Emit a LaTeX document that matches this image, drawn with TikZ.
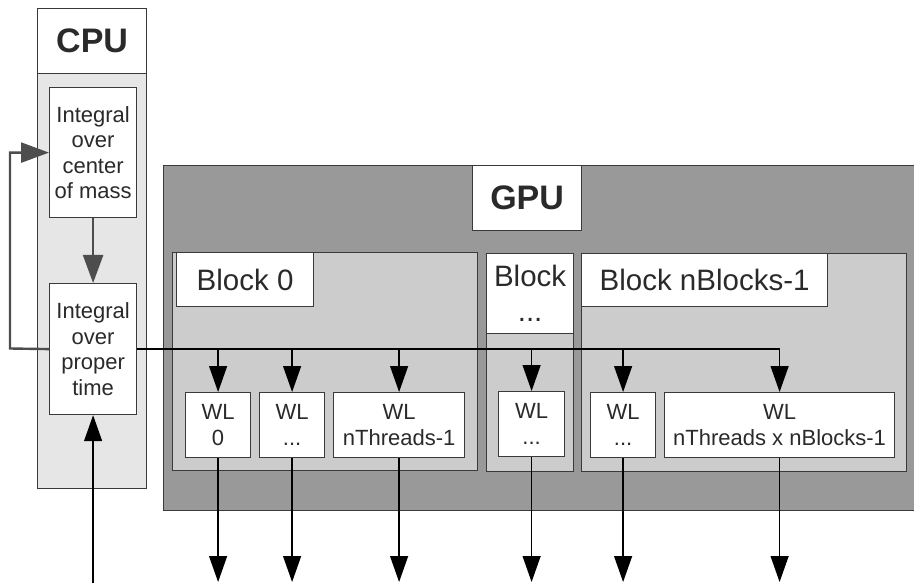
\documentclass[tikz,border=0pt]{standalone}
\usepackage{fontspec}
\setmainfont{Liberation Sans}
\usetikzlibrary{arrows.meta}
\definecolor{txt}{HTML}{2A2A2A}
\definecolor{edge}{HTML}{3A3A3A}
\definecolor{cpufill}{HTML}{E6E6E6}
\definecolor{gpufill}{HTML}{999999}
\definecolor{blkfill}{HTML}{CCCCCC}
\definecolor{garrow}{HTML}{4D4D4D}
\tikzset{
  box/.style={draw=edge, line width=1.2pt, fill=white, inner sep=0pt, anchor=north west, align=center, text=txt},
  big/.style={font=\fontsize{34}{38}\selectfont\bfseries},
  blk/.style={font=\fontsize{29.5}{35}\selectfont},
  wl/.style={font=\fontsize{22}{26}\selectfont},
  integ/.style={font=\fontsize{22}{25.5}\selectfont},
  flow/.style={draw=black, line width=1.3pt, -{Triangle[length=26pt,width=18pt]}},
  gflow/.style={draw=garrow, line width=2.4pt, -{Triangle[length=28pt,width=20pt]}},
}
\begin{document}
\begin{tikzpicture}[x=1pt,y=-1pt]
\useasboundingbox (0,0) rectangle (914,583);
\clip (0,0) rectangle (914,583);
% CPU column
\node[box, fill=cpufill, minimum width=109pt, minimum height=480pt] (cpucol) at (37,8) {};
\node[box, big, minimum width=109pt, minimum height=65pt] (cpu) at (37,8) {CPU};
\node[box, integ, minimum width=87pt, minimum height=130pt] (com) at (49,87) {Integral\\over\\center\\of mass};
\node[box, integ, minimum width=87pt, minimum height=131pt] (prop) at (49,283) {Integral\\over\\proper\\time};
% GPU
\node[box, fill=gpufill, minimum width=780pt, minimum height=345pt] (gpu) at (163,165) {};
\node[box, big, minimum width=109pt, minimum height=65pt] (gpulab) at (472,165) {GPU};
% Blocks
\node[box, fill=blkfill, minimum width=305pt, minimum height=218pt] (blk0) at (172,252) {};
\node[box, blk, minimum width=137pt, minimum height=54pt] (blk0lab) at (176,252) {Block 0};
\node[box, fill=blkfill, minimum width=87pt, minimum height=218pt] (blkm) at (486,253) {};
\node[box, blk, minimum width=87pt, minimum height=80pt] (blkmlab) at (486,253) {Block\\...};
\node[box, fill=blkfill, minimum width=325pt, minimum height=218pt] (blkn) at (581,253) {};
\node[box, blk, minimum width=246pt, minimum height=53pt] (blknlab) at (581,253) {Block nBlocks-1};
% WL boxes
\node[box, wl, minimum width=65pt, minimum height=65pt] (wl0) at (185,392) {WL\\0};
\node[box, wl, minimum width=65pt, minimum height=65pt] (wl1) at (259,392) {WL\\...};
\node[box, wl, minimum width=131pt, minimum height=65pt] (wl2) at (333,392) {WL\\nThreads-1};
\node[box, wl, minimum width=66pt, minimum height=65pt] (wl3) at (498,391) {WL\\...};
\node[box, wl, minimum width=65pt, minimum height=65pt] (wl4) at (590,392) {WL\\...};
\node[box, wl, minimum width=230pt, minimum height=65pt] (wl5) at (664,392) {WL\\nThreads x nBlocks-1};
% coordinates
\coordinate (loopc) at (10,348.5);
\coordinate (bot) at (0,582);
\coordinate (botin) at (0,584);
% CPU arrows
\draw[gflow] (com.south) -- (prop.north);
\draw[gflow] (prop.west) -- (loopc) |- (com.west);
% bus
\draw[black, line width=1.3pt] (prop.east) -- (wl5.north |- prop.east);
\foreach \w in {wl0,wl1,wl2,wl3,wl4,wl5} {
  \draw[flow] (\w.north |- prop.east) -- (\w.north);
  \draw[flow] (\w.south) -- (\w.south |- bot);
}
\draw[flow] (prop.south |- botin) -- (prop.south);
\end{tikzpicture}
\end{document}
